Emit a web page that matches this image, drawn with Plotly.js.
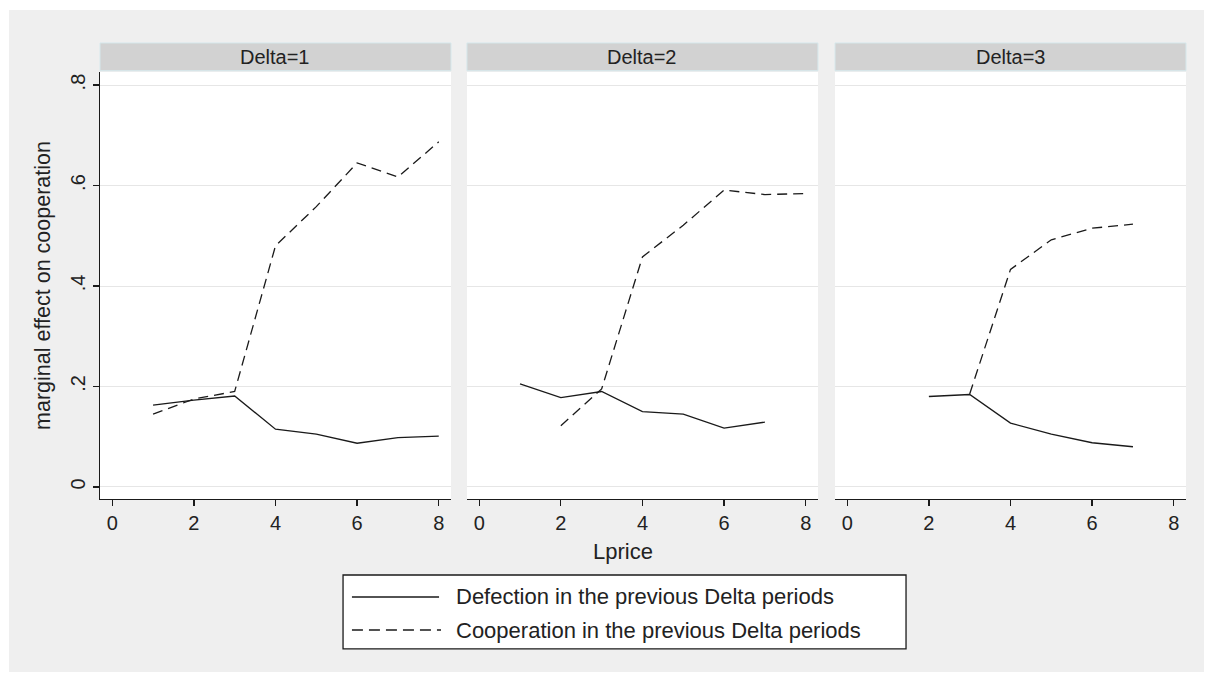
<!DOCTYPE html>
<html>
<head>
<meta charset="utf-8">
<script src="https://cdn.plot.ly/plotly-3.0.1.min.js"></script>
<style>
  html, body { margin: 0; padding: 0; background: #ffffff; }
  #chart { position: absolute; left: 9px; top: 10px; width: 1195px; height: 662px; }
</style>
</head>
<body>
<div id="chart"></div>
<script>
// ---- data ----
const panelTitles = ["Delta=1", "Delta=2", "Delta=3"];
const seriesNames = ["Defection in the previous Delta periods", "Cooperation in the previous Delta periods"];

const d1DefectX = [1, 2, 3, 4, 5, 6, 7, 8];
const d1Defect  = [0.163, 0.173, 0.181, 0.115, 0.105, 0.087, 0.098, 0.101];
const d1CoopX   = [1, 2, 3, 4, 5, 6, 7, 8];
const d1Coop    = [0.145, 0.175, 0.190, 0.480, 0.558, 0.645, 0.617, 0.687];

const d2DefectX = [1, 2, 3, 4, 5, 6, 7];
const d2Defect  = [0.205, 0.178, 0.190, 0.150, 0.145, 0.117, 0.129];
const d2CoopX   = [2, 3, 4, 5, 6, 7, 8];
const d2Coop    = [0.122, 0.195, 0.458, 0.521, 0.591, 0.582, 0.584];

const d3DefectX = [2, 3, 4, 5, 6, 7];
const d3Defect  = [0.180, 0.184, 0.127, 0.105, 0.088, 0.080];
const d3CoopX   = [3, 4, 5, 6, 7];
const d3Coop    = [0.185, 0.433, 0.492, 0.515, 0.523];

const xTickVals = [0, 2, 4, 6, 8];
const yTickVals = [0, 0.2, 0.4, 0.6, 0.8];
const yTickText = ["0", ".2", ".4", ".6", ".8"];

// ---- styling ----
const FONT = "Liberation Sans, Arial, Helvetica, sans-serif";
const TXT = "#222222";
const LINE = "#1a1a1a";
const DASH = "10px,6px";

function solid(x, y, ax, name) {
  return { x: x, y: y, xaxis: "x" + ax, yaxis: "y" + ax, type: "scatter", mode: "lines",
           name: name, showlegend: false, line: { color: LINE, width: 1.3 }, hoverinfo: "x+y" };
}
function dashed(x, y, ax, name) {
  return { x: x, y: y, xaxis: "x" + ax, yaxis: "y" + ax, type: "scatter", mode: "lines",
           name: name, showlegend: false, line: { color: LINE, width: 1.3, dash: DASH }, hoverinfo: "x+y" };
}

const traces = [
  solid(d1DefectX, d1Defect, "", seriesNames[0]),
  dashed(d1CoopX, d1Coop, "", seriesNames[1]),
  solid(d2DefectX, d2Defect, "2", seriesNames[0]),
  dashed(d2CoopX, d2Coop, "2", seriesNames[1]),
  solid(d3DefectX, d3Defect, "3", seriesNames[0]),
  dashed(d3CoopX, d3Coop, "3", seriesNames[1])
];

const domains = [[0, 0.3232], [0.3379, 0.6611], [0.6768, 1]];
const xRange = [-0.3, 8.3];
const yRange = [-0.024, 0.826];

function xAxis(i) {
  return {
    domain: domains[i], range: xRange, anchor: i === 0 ? "y" : "y" + (i + 1),
    showgrid: false, zeroline: false, showline: true, linecolor: LINE, linewidth: 1.3,
    ticks: "outside", ticklen: 6, tickwidth: 1.3, tickcolor: LINE,
    tickvals: xTickVals, ticktext: xTickVals.map(String),
    tickfont: { family: FONT, size: 20, color: TXT }, fixedrange: true
  };
}
function yAxis(i) {
  const base = {
    range: yRange, anchor: i === 0 ? "x" : "x" + (i + 1),
    tickvals: yTickVals, ticktext: yTickText,
    showgrid: true, gridcolor: "#e6e6e6", gridwidth: 1, zeroline: false, fixedrange: true
  };
  if (i === 0) {
    return Object.assign(base, {
      showline: true, linecolor: LINE, linewidth: 1.3,
      ticks: "outside", ticklen: 6, tickwidth: 1.3, tickcolor: LINE,
      tickangle: -90, tickfont: { family: FONT, size: 20, color: TXT },
      title: { text: "marginal effect on cooperation", font: { family: FONT, size: 21.5, color: TXT }, standoff: 10 }
    });
  }
  return Object.assign(base, { matches: "y", showline: false, ticks: "", showticklabels: false });
}

const shapes = [];
const annotations = [];
["x", "x2", "x3"].forEach(function (xr, i) {
  shapes.push({ type: "rect", xref: xr + " domain", yref: "paper", x0: 0, x1: 1, y0: 1.003, y1: 1.068,
                fillcolor: "#d2d2d2", line: { color: "#d6e8ec", width: 1 }, layer: "below" });
  annotations.push({ xref: xr + " domain", yref: "paper", x: 0.5, y: 1.0355, text: panelTitles[i],
                     showarrow: false, xanchor: "center", yanchor: "middle",
                     font: { family: FONT, size: 20, color: TXT } });
});

// x title
annotations.push({ xref: "paper", yref: "paper", x: 0.4816, y: -0.124, text: "Lprice", showarrow: false,
                   xanchor: "center", yanchor: "middle", font: { family: FONT, size: 22, color: TXT } });

// legend box (drawn manually to match layout)
shapes.push({ type: "rect", xref: "paper", yref: "paper", x0: 0.2238, x1: 0.7422, y0: -0.178, y1: -0.351,
              fillcolor: "#ffffff", line: { color: LINE, width: 1.3 } });
shapes.push({ type: "line", xref: "paper", yref: "paper", x0: 0.2320, x1: 0.3122, y0: -0.2295, y1: -0.2295,
              line: { color: LINE, width: 1.3 } });
shapes.push({ type: "line", xref: "paper", yref: "paper", x0: 0.2320, x1: 0.3140, y0: -0.3068, y1: -0.3068,
              line: { color: LINE, width: 1.3, dash: "11px,6px" } });
annotations.push({ xref: "paper", yref: "paper", x: 0.3260, y: -0.2295, text: seriesNames[0], showarrow: false,
                   xanchor: "left", yanchor: "middle", font: { family: FONT, size: 22, color: TXT } });
annotations.push({ xref: "paper", yref: "paper", x: 0.3260, y: -0.3068, text: seriesNames[1], showarrow: false,
                   xanchor: "left", yanchor: "middle", font: { family: FONT, size: 22, color: TXT } });

const layout = {
  width: 1195, height: 662,
  margin: { l: 91, r: 18, t: 62, b: 173, pad: 0 },
  paper_bgcolor: "#efefef", plot_bgcolor: "#ffffff",
  showlegend: false,
  font: { family: FONT, color: TXT },
  xaxis: xAxis(0), xaxis2: xAxis(1), xaxis3: xAxis(2),
  yaxis: yAxis(0), yaxis2: yAxis(1), yaxis3: yAxis(2),
  shapes: shapes, annotations: annotations
};

Plotly.newPlot("chart", traces, layout, { displayModeBar: false, staticPlot: true });
</script>
</body>
</html>
